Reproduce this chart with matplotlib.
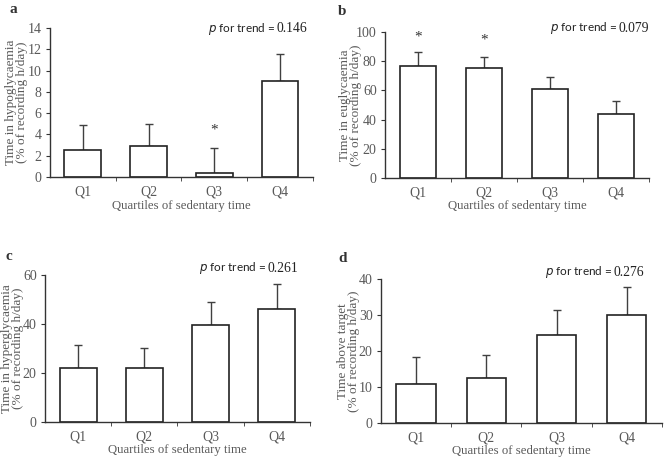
import numpy as np
import matplotlib.pyplot as plt

quartiles = ['Q1', 'Q2', 'Q3', 'Q4']

hypo_mean = [2.5, 2.95, 0.4, 9.0]
hypo_upper = [4.85, 4.95, 2.7, 11.6]

eugly_mean = [77, 75.5, 61, 44]
eugly_upper = [86, 83, 69.5, 53]

hyper_mean = [22, 22, 39.7, 46]
hyper_upper = [31.5, 30.3, 49, 56.5]

above_mean = [10.8, 12.4, 24.5, 29.9]
above_upper = [18.2, 18.8, 31.5, 37.8]

p_values = ['0.146', '0.079', '0.261', '0.276']

grey = '#595959'
serif = ['Liberation Serif', 'DejaVu Serif']
plt.rcParams['font.family'] = serif

W, H = 664, 458
fig = plt.figure(figsize=(W / 100, H / 100), dpi=100)

panels = [
    # letter, rect, means, upper, ylim, yticks, ylabel, stars, ylab x, xlab y, letter pos, p pos
    ('a', [0.0753, 0.6135, 0.396, 0.3253], hypo_mean, hypo_upper, 14, np.arange(0, 15, 2),
     'Time in hypoglycaemia', {2: 4.4}, -0.082, -0.155, (10, 3), (275, 29)),
    ('b', [0.5798, 0.6114, 0.3976, 0.3188], eugly_mean, eugly_upper, 100, np.arange(0, 101, 20),
     'Time in euglycaemia', {0: 96.5, 1: 94.5}, -0.088, -0.152, (338, 5), (617, 28)),
    ('c', [0.0678, 0.0786, 0.399, 0.321], hyper_mean, hyper_upper, 60, np.arange(0, 61, 20),
     'Time in hyperglycaemia', {}, -0.08, -0.148, (6, 250), (266.5, 268)),
    ('d', [0.5738, 0.0764, 0.423, 0.3144], above_mean, above_upper, 40, np.arange(0, 41, 10),
     'Time above target', {}, -0.075, -0.155, (338, 252), (612.5, 272)),
]

for i, (letter, rect, means, upper, ymax, yticks, ylabel, stars, ylx, xly, lpos, ppos) in enumerate(panels):
    ax = fig.add_axes(rect)
    x = np.arange(len(quartiles))
    err = [u - m for u, m in zip(upper, means)]
    ax.bar(x, means, width=0.56, color='white', edgecolor='#222222', linewidth=1.2, zorder=2)
    ax.errorbar(x, means, yerr=[np.zeros(4), err], fmt='none', ecolor='#404040',
                elinewidth=1.0, capsize=3, capthick=1.0, zorder=1)
    for k, yv in stars.items():
        ax.text(x[k], yv, '*', ha='center', va='center', fontsize=11, color='#333333')
    ax.set_xlim(-0.5, 3.5)
    ax.set_ylim(0, ymax)
    ax.set_yticks(yticks)
    ax.set_xticks(x)
    ax.set_xticklabels(quartiles)
    ax.set_xticks([0.5, 1.5, 2.5, 3.5], minor=True)
    ax.tick_params(axis='x', which='major', length=0, labelsize=10, labelcolor=grey, pad=6)
    ax.tick_params(axis='x', which='minor', length=3, direction='out', color='#333333')
    ax.tick_params(axis='y', length=3, direction='out', labelsize=10, labelcolor=grey, color='#333333', pad=3)
    for s in ['top', 'right']:
        ax.spines[s].set_visible(False)
    for s in ['left', 'bottom']:
        ax.spines[s].set_color('#333333')
        ax.spines[s].set_linewidth(1.0)
    ax.set_ylabel(ylabel + '\n(% of recording h/day)', fontsize=9.5, color=grey, linespacing=0.9)
    ax.yaxis.set_label_coords(ylx, 0.5)
    ax.set_xlabel('Quartiles of sedentary time', fontsize=9.2, color=grey)
    ax.xaxis.set_label_coords(0.5, xly)

    fig.text(lpos[0] / W, 1 - lpos[1] / H, letter, fontsize=11, fontweight='bold', color='#333333',
             va='top', ha='left')
    fig.text((ppos[0] + 1.5) / W, 1 - ppos[1] / H, p_values[i], fontsize=9.8, color='#222222',
             ha='left', va='center')
    fig.text(ppos[0] / W, 1 - ppos[1] / H, '$\\it{p}$ for trend =', fontsize=8.5,
             family=['Lato', 'DejaVu Sans'], color='#222222', ha='right', va='center')

fig.savefig('out.png', dpi=100)
